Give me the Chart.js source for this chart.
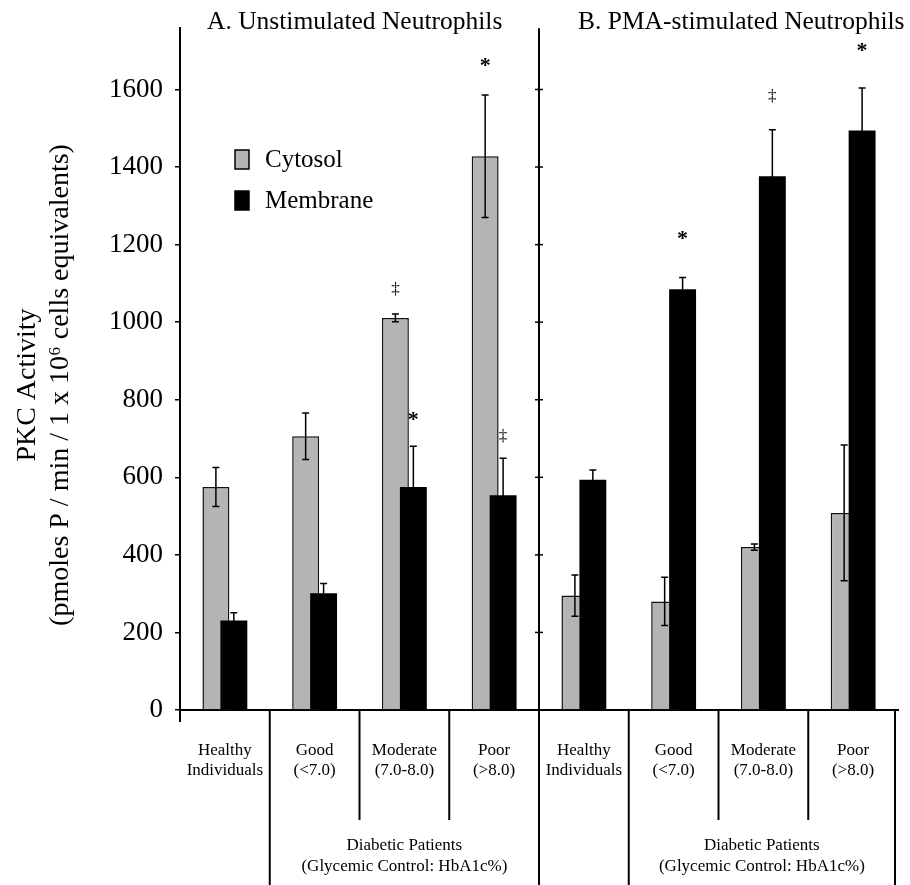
<!DOCTYPE html>
<html lang="en">
<head>
  <meta charset="UTF-8" />
  <title>PKC Activity</title>
  <script src="https://cdn.jsdelivr.net/npm/chart.js"></script>
  <style>
    body {
      margin: 0;
      background: #fff;
    }
    .wrap {
      width: 910px;
      height: 885px;
      position: relative;
    }
  </style>
</head>
<body>
  <div class="wrap"><canvas id="pkcChart"></canvas></div>

  <script>
    // data
    const categories = [
      ['Healthy', 'Individuals'], ['Good', '(<7.0)'], ['Moderate', '(7.0-8.0)'], ['Poor', '(>8.0)'],
      ['Healthy', 'Individuals'], ['Good', '(<7.0)'], ['Moderate', '(7.0-8.0)'], ['Poor', '(>8.0)']
    ];
    const cytosol = [575, 706, 1011, 1428, 295, 280, 420, 508];
    const cytosolErr = [50, 60, 10, 158, 53, 62, 8, 175];
    const membrane = [231, 301, 575, 554, 594, 1085, 1376, 1494];
    const membraneErr = [20, 25, 105, 95, 25, 30, 120, 110];
    const cytosolMarks = ['', '', '‡', '*', '', '', '', ''];
    const cytosolMarkAt = [null, null, 1083, 1652, null, null, null, null];
    const membraneMarks = ['', '', '*', '‡', '', '*', '‡', '*'];
    const membraneMarkAt = [null, null, 739, 706, null, 1206, 1582, 1690];
    const yTicks = [0, 200, 400, 600, 800, 1000, 1200, 1400, 1600];
    const panelTitles = ['A. Unstimulated Neutrophils', 'B. PMA-stimulated Neutrophils'];
    const groupLabel = ['Diabetic Patients', '(Glycemic Control: HbA1c%)'];
    const yTitle = ['PKC Activity', '(pmoles P / min / 1 x 10\u2076 cells equivalents)'];

    const serif = "'Liberation Serif', 'Times New Roman', serif";
    const grey = '#b4b4b4';

    // membrane bars sit on top of cytosol bars
    const drawOrder = {
      id: 'drawOrder',
      beforeDatasetsDraw(chart) {
        [0, 1].forEach(i => chart.getDatasetMeta(i).controller.draw());
        return false;
      }
    };

    const extras = {
      id: 'extras',
      afterDraw(chart) {
        const ctx = chart.ctx;
        const x = chart.scales.x;
        const y = chart.scales.y;
        const area = chart.chartArea;
        ctx.save();

        // error bars + significance marks
        const sets = [
          [cytosol, cytosolErr, cytosolMarks, cytosolMarkAt],
          [membrane, membraneErr, membraneMarks, membraneMarkAt]
        ];
        sets.forEach(([vals, errs, marks, markAt], d) => {
          const meta = chart.getDatasetMeta(d);
          vals.forEach((v, i) => {
            const cx = meta.data[i].x;
            const top = y.getPixelForValue(v + errs[i]);
            const bot = y.getPixelForValue(v - errs[i]);
            ctx.strokeStyle = '#000';
            ctx.lineWidth = 1.5;
            ctx.beginPath();
            ctx.moveTo(cx, top); ctx.lineTo(cx, bot);
            ctx.moveTo(cx - 3.5, top); ctx.lineTo(cx + 3.5, top);
            ctx.moveTo(cx - 3.5, bot); ctx.lineTo(cx + 3.5, bot);
            ctx.stroke();
            if (marks[i]) {
              ctx.fillStyle = '#000';
              ctx.textAlign = 'center';
              ctx.textBaseline = 'middle';
              const star = marks[i] === '*';
              ctx.font = star ? 'bold 22px ' + serif : '17px ' + serif;
              ctx.fillText(marks[i], cx, y.getPixelForValue(markAt[i]) + (star ? -3 : 0));
            }
          });
        });

        // dividers under the axis
        const edge = i => i >= categories.length - 1 ? area.right - 3 : (x.getPixelForValue(i) + x.getPixelForValue(i + 1)) / 2;
        ctx.strokeStyle = '#000';
        ctx.lineWidth = 2;
        const dividers = [[0, 885], [1, 820], [2, 820], [3, 885], [4, 885], [5, 820], [6, 820], [7, 885]];
        dividers.forEach(([i, end]) => {
          const px = edge(i);
          ctx.beginPath();
          ctx.moveTo(px, i === 3 ? area.top : area.bottom);
          ctx.lineTo(px, end);
          ctx.stroke();
        });

        // left axis runs a little below zero
        ctx.beginPath();
        ctx.moveTo(area.left, area.bottom);
        ctx.lineTo(area.left, area.bottom + 12);
        ctx.stroke();

        // ticks on the panel B axis
        const midX = edge(3);
        ctx.lineWidth = 1.5;
        yTicks.slice(1).forEach(t => {
          const py = y.getPixelForValue(t);
          ctx.beginPath();
          ctx.moveTo(midX - 4, py); ctx.lineTo(midX + 4, py);
          ctx.stroke();
        });

        // group labels
        ctx.fillStyle = '#000';
        ctx.textAlign = 'center';
        ctx.textBaseline = 'middle';
        ctx.font = '17px ' + serif;
        [[edge(0), edge(3)], [edge(4), edge(7)]].forEach(([a, b]) => {
          groupLabel.forEach((t, k) => ctx.fillText(t, (a + b) / 2, 846 + k * 21));
        });

        // panel titles
        ctx.textAlign = 'left';
        ctx.textBaseline = 'alphabetic';
        ctx.font = '25.5px ' + serif;
        ctx.fillText(panelTitles[0], 207, 29);
        ctx.fillText(panelTitles[1], 578, 29);

        // legend
        const legendItems = [['Cytosol', grey], ['Membrane', '#000']];
        ctx.font = '25px ' + serif;
        ctx.textBaseline = 'middle';
        legendItems.forEach(([label, color], k) => {
          const ly = 150 + k * 41;
          ctx.fillStyle = color;
          ctx.fillRect(235, ly, 14, 19);
          ctx.strokeStyle = '#000';
          ctx.lineWidth = 1.5;
          ctx.strokeRect(235, ly, 14, 19);
          ctx.fillStyle = '#000';
          ctx.fillText(label, 265, ly + 10);
        });

        // y title
        ctx.save();
        ctx.translate(0, 385);
        ctx.rotate(-Math.PI / 2);
        ctx.textAlign = 'center';
        ctx.font = '28px ' + serif;
        yTitle.forEach((t, k) => ctx.fillText(t, 0, 28 + k * 33));
        ctx.restore();

        ctx.restore();
      }
    };

    new Chart(document.getElementById('pkcChart'), {
      type: 'bar',
      data: {
        labels: categories,
        datasets: [
          {
            label: 'Cytosol',
            data: cytosol,
            backgroundColor: grey,
            borderColor: '#111',
            borderWidth: 1.5,
            categoryPercentage: 0.4,
            barPercentage: 1.5
          },
          {
            label: 'Membrane',
            data: membrane,
            backgroundColor: '#000',
            borderWidth: 0,
            categoryPercentage: 0.4,
            barPercentage: 1.5
          }
        ]
      },
      options: {
        responsive: true,
        maintainAspectRatio: false,
        animation: false,
        layout: { padding: { top: 20, right: 12, left: 0, bottom: 0 } },
        plugins: {
          legend: { display: false },
          tooltip: { enabled: false }
        },
        scales: {
          x: {
            grid: { display: false },
            border: { display: true, color: '#000', width: 2 },
            ticks: {
              color: '#000',
              font: { family: serif, size: 17 },
              padding: 22,
              maxRotation: 0,
              autoSkip: false
            },
            afterFit: s => { s.height = 175; }
          },
          y: {
            min: 0,
            max: 1758,
            afterBuildTicks: s => { s.ticks = yTicks.map(v => ({ value: v })); },
            grid: { drawOnChartArea: false, drawTicks: true, tickLength: 5, color: '#000', lineWidth: 1.5 },
            border: { display: true, color: '#000', width: 2 },
            ticks: {
              color: '#000',
              font: { family: serif, size: 27 },
              padding: 12,
              callback: v => String(v)
            },
            afterFit: s => { s.width = 180; }
          }
        }
      },
      plugins: [drawOrder, extras]
    });
  </script>
</body>
</html>
